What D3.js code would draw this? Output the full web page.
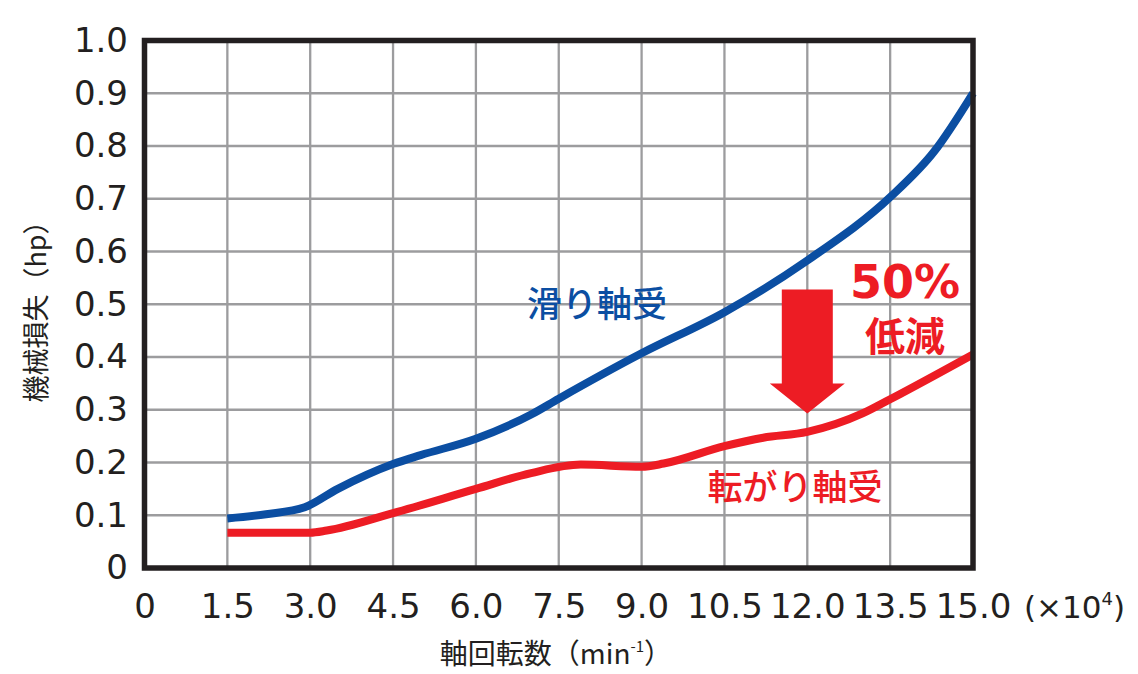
<!DOCTYPE html>
<html>
<head>
<meta charset="utf-8">
<script src="https://cdn.jsdelivr.net/npm/d3@7"></script>
<style>
  html, body { margin: 0; padding: 0; background: #fff; }
  svg { display: block; }
</style>
</head>
<body>
<svg id="chart" width="1138" height="674"></svg>
<script>
// ---- data ----
const xTicks = [0, 1.5, 3.0, 4.5, 6.0, 7.5, 9.0, 10.5, 12.0, 13.5, 15.0];
const xTickLabels = ["0", "1.5", "3.0", "4.5", "6.0", "7.5", "9.0", "10.5", "12.0", "13.5", "15.0"];
const yTicks = [0, 0.1, 0.2, 0.3, 0.4, 0.5, 0.6, 0.7, 0.8, 0.9, 1.0];
const yTickLabels = ["0", "0.1", "0.2", "0.3", "0.4", "0.5", "0.6", "0.7", "0.8", "0.9", "1.0"];

const plainX = [1.5, 2.2, 2.9, 3.5, 4.5, 5.0, 6.0, 7.0, 7.5, 9.0, 10.5, 12.0, 13.5, 14.3, 15.0];
const plainY = [0.094, 0.102, 0.115, 0.150, 0.197, 0.214, 0.245, 0.291, 0.321, 0.407, 0.485, 0.583, 0.703, 0.790, 0.900];

const rollX = [1.5, 3.0, 3.3, 4.5, 6.0, 7.0, 7.9, 9.0, 9.4, 10.5, 11.2, 12.0, 13.0, 13.5, 15.0];
const rollY = [0.067, 0.067, 0.071, 0.104, 0.150, 0.180, 0.196, 0.192, 0.198, 0.231, 0.247, 0.258, 0.293, 0.320, 0.405];

const labelPlain = "滑り軸受";
const labelRoll = "転がり軸受";
const reduceLabel1 = "50%";
const reduceLabel2 = "低減";
const xTitle = "軸回転数（min";
const yTitle = "機械損失（hp）";
// arrow annotation in data units: centre x, shaft top, head base, tip
const arrowX = 12.0, arrowTop = 0.528, arrowHeadBase = 0.35, arrowTip = 0.293;

// ---- layout ----
const svg = d3.select("#chart");
const x = d3.scaleLinear().domain([0, 15]).range([144.5, 973]);
const y = d3.scaleLinear().domain([0, 1]).range([568, 40.5]);

const BLUE = "#0b4ea2", RED = "#ed1c24", INK = "#231f20", GRID = "#9c9c9e";
const numFont = "'DejaVu Sans', sans-serif";
const jpFont = "'Noto Sans CJK JP', sans-serif";

// grid
svg.append("g").selectAll("line.v").data(xTicks.slice(1, -1)).join("line")
  .attr("x1", d => x(d)).attr("x2", d => x(d))
  .attr("y1", y(0)).attr("y2", y(1))
  .attr("stroke", GRID).attr("stroke-width", 2.3);
svg.append("g").selectAll("line.h").data(yTicks.slice(1, -1)).join("line")
  .attr("y1", d => y(d)).attr("y2", d => y(d))
  .attr("x1", x(0)).attr("x2", x(15))
  .attr("stroke", GRID).attr("stroke-width", 2.3);

// curves
const line = d3.line().x(d => x(d[0])).y(d => y(d[1])).curve(d3.curveMonotoneX);
svg.append("path").datum(plainX.map((v, i) => [v, plainY[i]]))
  .attr("d", line).attr("fill", "none").attr("stroke", BLUE).attr("stroke-width", 8);
svg.append("path").datum(rollX.map((v, i) => [v, rollY[i]]))
  .attr("d", line).attr("fill", "none").attr("stroke", RED).attr("stroke-width", 8);

// frame
svg.append("rect")
  .attr("x", x(0)).attr("y", y(1))
  .attr("width", x(15) - x(0)).attr("height", y(0) - y(1))
  .attr("fill", "none").attr("stroke", INK).attr("stroke-width", 5.5);

// axes (labels only)
const yAxis = d3.axisLeft(y).tickValues(yTicks)
  .tickFormat((d, i) => yTickLabels[i]).tickSize(0).tickPadding(16.5);
const gy = svg.append("g").attr("transform", `translate(${x(0)},0)`).call(yAxis);
gy.select(".domain").remove();
gy.selectAll("text").attr("font-family", numFont).attr("font-size", 34).attr("fill", INK);

const xAxis = d3.axisBottom(x).tickValues(xTicks)
  .tickFormat((d, i) => xTickLabels[i]).tickSize(0).tickPadding(25.5);
const gx = svg.append("g").attr("transform", `translate(0,${y(0)})`).call(xAxis);
gx.select(".domain").remove();
gx.selectAll("text").attr("font-family", numFont).attr("font-size", 34).attr("fill", INK);

// (×10^4)
const unit = svg.append("text").attr("x", 1024).attr("y", 618)
  .attr("font-family", numFont).attr("font-size", 31).attr("fill", INK);
unit.append("tspan").text("(×10");
unit.append("tspan").attr("font-size", 18).attr("dy", -13).text("4");
unit.append("tspan").attr("dy", 13).text(")");

// axis titles
const xt = svg.append("text").attr("x", 556).attr("y", 664).attr("text-anchor", "middle")
  .attr("font-family", jpFont).attr("font-size", 28).attr("fill", INK);
xt.append("tspan").text(xTitle);
xt.append("tspan").attr("font-size", 15).attr("dy", -12).text("-1");
xt.append("tspan").attr("dy", 12).text("）");

svg.append("text")
  .attr("transform", "translate(46,305) rotate(-90)")
  .attr("text-anchor", "middle")
  .attr("font-family", jpFont).attr("font-size", 27).attr("fill", INK)
  .text(yTitle);

// series labels
svg.append("text").attr("x", 597).attr("y", 317).attr("text-anchor", "middle")
  .attr("font-family", jpFont).attr("font-weight", 500).attr("font-size", 35).attr("fill", BLUE)
  .text(labelPlain);
svg.append("text").attr("x", 795).attr("y", 500).attr("text-anchor", "middle")
  .attr("font-family", jpFont).attr("font-weight", 500).attr("font-size", 35).attr("fill", RED)
  .text(labelRoll);

// reduction annotation
svg.append("text").attr("x", 905).attr("y", 298).attr("text-anchor", "middle")
  .attr("font-family", numFont).attr("font-weight", "bold").attr("font-size", 46).attr("fill", RED)
  .text(reduceLabel1);
svg.append("text").attr("x", 905).attr("y", 351).attr("text-anchor", "middle")
  .attr("font-family", jpFont).attr("font-weight", 700).attr("font-size", 40).attr("fill", RED)
  .text(reduceLabel2);

const ax = x(arrowX);
const arrowPts = [
  [ax - 25.5, y(arrowTop)], [ax + 25.5, y(arrowTop)],
  [ax + 25.5, y(arrowHeadBase)], [ax + 37.5, y(arrowHeadBase)],
  [ax, y(arrowTip)],
  [ax - 37.5, y(arrowHeadBase)], [ax - 25.5, y(arrowHeadBase)]
];
svg.append("polygon").attr("points", arrowPts.map(p => p.join(",")).join(" "))
  .attr("fill", RED);
</script>
</body>
</html>
